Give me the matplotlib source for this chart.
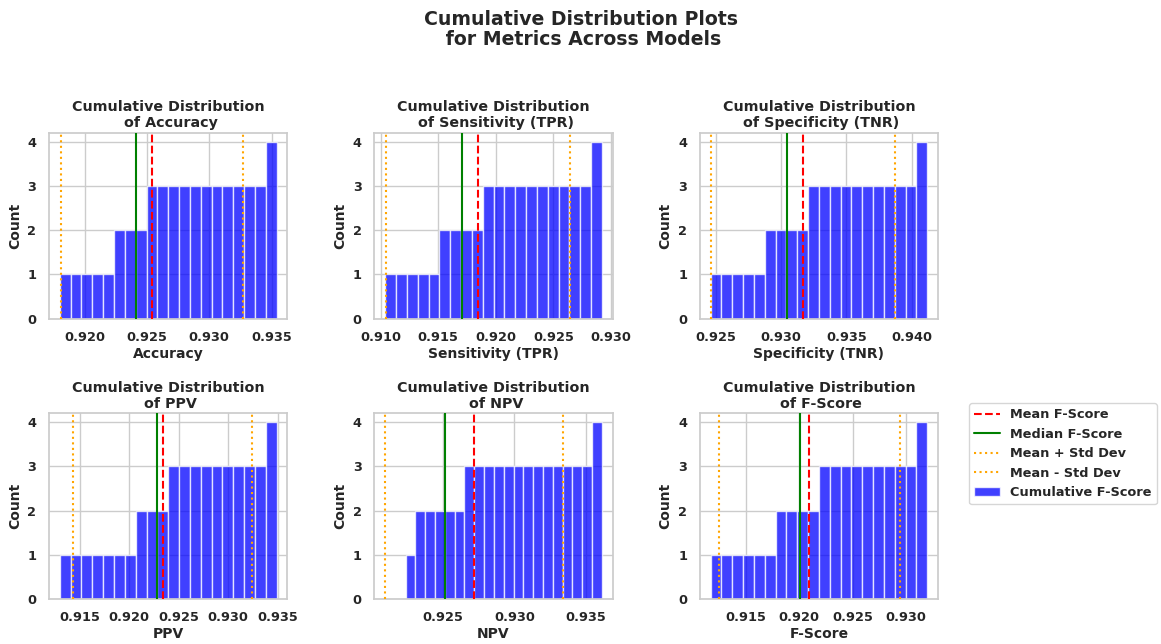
import numpy as np
import matplotlib
matplotlib.use("Agg")
import matplotlib.pyplot as plt
import seaborn as sns

sns.set_theme(style="whitegrid")
plt.rcParams['font.family'] = ['DejaVu Sans']
plt.rcParams['font.weight'] = 'bold'
plt.rcParams['axes.titleweight'] = 'bold'
plt.rcParams['axes.labelweight'] = 'bold'

# Metric values for the four models
metric_names = ["Accuracy", "Sensitivity (TPR)", "Specificity (TNR)", "PPV", "NPV", "F-Score"]
accuracy = [0.9180, 0.9230, 0.9252, 0.9354]
sensitivity = [0.9104, 0.9153, 0.9189, 0.9292]
specificity = [0.9246, 0.9288, 0.9321, 0.9412]
ppv = [0.9130, 0.9215, 0.9242, 0.9349]
npv = [0.9224, 0.9235, 0.9268, 0.9361]
fscore = [0.9117, 0.9182, 0.9219, 0.9320]
metric_values = [accuracy, sensitivity, specificity, ppv, npv, fscore]
n_bins = 20

fig, axes = plt.subplots(2, 3, figsize=(11.61, 6.44), dpi=100)
fig.subplots_adjust(left=0.0422, right=0.808, top=0.7935, bottom=0.0699,
                    wspace=0.365, hspace=0.51)

text_color = '#262626'
for ax, name, vals in zip(axes.flat, metric_names, metric_values):
    v = np.array(vals)
    mean = v.mean()
    median = np.median(v)
    std = v.std(ddof=1)
    ax.hist(v, bins=n_bins, cumulative=True, color='blue', alpha=0.75,
            edgecolor='white', linewidth=1.0, label='Cumulative F-Score', zorder=2)
    ax.axvline(mean, color='red', linestyle='--', linewidth=1.5, label='Mean F-Score', zorder=3)
    ax.axvline(median, color='green', linestyle='-', linewidth=1.5, label='Median F-Score', zorder=3)
    ax.axvline(mean + std, color='orange', linestyle=':', linewidth=1.5, label='Mean + Std Dev', zorder=3)
    ax.axvline(mean - std, color='orange', linestyle=':', linewidth=1.5, label='Mean - Std Dev', zorder=3)
    ax.set_title(f"Cumulative Distribution\n of {name}", fontsize=10.3, color=text_color, pad=4)
    ax.set_xlabel(name, fontsize=10, color=text_color, labelpad=2)
    ax.set_ylabel("Count", fontsize=10, color=text_color, labelpad=4)
    ax.tick_params(axis='both', labelsize=9.3, colors=text_color, pad=3)
    ax.set_yticks([0, 1, 2, 3, 4])
    for lab in ax.get_xticklabels() + ax.get_yticklabels():
        lab.set_fontweight('bold')
    ax.set_axisbelow(True)

handles, labels = axes.flat[-1].get_legend_handles_labels()
order = [1, 2, 3, 4, 0]
fig.legend([handles[i] for i in order], [labels[i] for i in order],
           loc='upper left', bbox_to_anchor=(969 / 1161, 1 - 403 / 644),
           borderaxespad=0, fontsize=9.3, frameon=True)

fig.suptitle("Cumulative Distribution Plots\n for Metrics Across Models",
             fontsize=13.6, fontweight='bold', color=text_color, y=0.985,
             linespacing=1.1)

fig.savefig("out.png", dpi=100)
